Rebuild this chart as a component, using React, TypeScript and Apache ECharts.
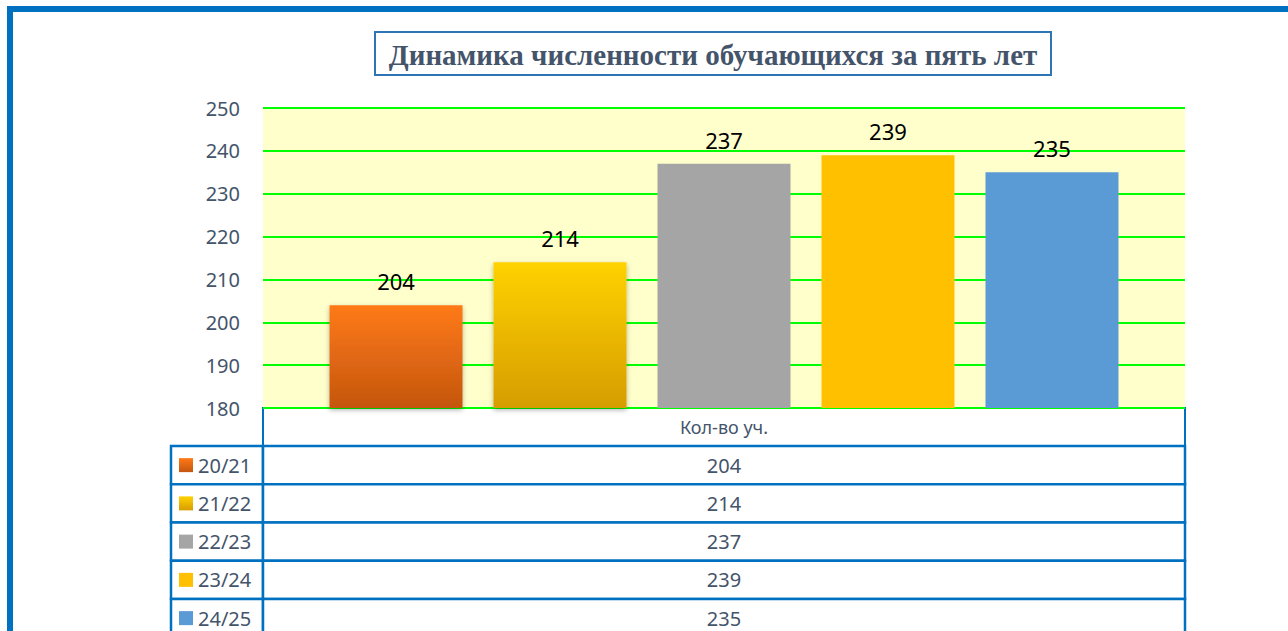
import React, { useEffect, useRef } from "react";
import * as echarts from "echarts";

const title = "Динамика численности обучающихся за пять лет";
const categoryLabel = "Кол-во уч.";
const seriesNames = ["20/21", "21/22", "22/23", "23/24", "24/25"];
const seriesValues = [204, 214, 237, 239, 235];
const yTicks = { min: 180, max: 250, interval: 10 };

const gradTop = ["#FF7A16", "#FFD200", "#A5A5A5", "#FFC000", "#5B9BD5"];
const gradBottom = ["#C4560F", "#D69D00", "#A5A5A5", "#FFC000", "#5B9BD5"];

const FONT = "'Noto Sans', sans-serif";
const TEXT = "#44546A";
const BLUE = "#0070C0";

const makeFill = (i: number) =>
  gradTop[i] === gradBottom[i]
    ? gradTop[i]
    : new echarts.graphic.LinearGradient(0, 0, 0, 1, [
        { offset: 0, color: gradTop[i] },
        { offset: 1, color: gradBottom[i] },
      ]);

export default function App() {
  const ref = useRef<HTMLDivElement>(null);
  useEffect(() => {
    if (!ref.current) return;
    const chart = echarts.init(ref.current, undefined, { renderer: "svg" });

    const gl = 263, gt = 108, gw = 922, gh = 300;
    const tableLeft = 171;
    const headerH = 38;
    const rowH = 38.25;

    const graphics: any[] = [];
    // outer frame
    graphics.push({
      type: "rect",
      shape: { x: 10, y: 9, width: 1400, height: 800 },
      style: { fill: "none", stroke: BLUE, lineWidth: 6 },
      silent: true,
    });
    // title box
    graphics.push({
      type: "rect",
      shape: { x: 375, y: 32, width: 676, height: 43 },
      style: { fill: "#fff", stroke: "#2E75B6", lineWidth: 2 },
    });
    graphics.push({
      type: "text",
      x: 713,
      y: 55,
      style: {
        text: title,
        fill: TEXT,
        font: "bold 29px 'Liberation Serif', serif",
        align: "center",
        verticalAlign: "middle",
      },
    });
    // table header
    const ht = gt + gh;
    graphics.push({
      type: "rect",
      shape: { x: gl, y: ht, width: gw, height: headerH },
      style: { fill: "#fff", stroke: BLUE, lineWidth: 2 },
    });
    graphics.push({
      type: "text",
      x: gl + gw / 2,
      y: ht + headerH / 2,
      style: {
        text: categoryLabel,
        fill: TEXT,
        font: `18px ${FONT}`,
        align: "center",
        verticalAlign: "middle",
      },
    });
    seriesNames.forEach((name, i) => {
      const y = ht + headerH + i * rowH;
      graphics.push({
        type: "rect",
        shape: { x: tableLeft, y, width: gl - tableLeft, height: rowH },
        style: { fill: "#fff", stroke: BLUE, lineWidth: 2.5 },
      });
      graphics.push({
        type: "rect",
        shape: { x: gl, y, width: gw, height: rowH },
        style: { fill: "#fff", stroke: BLUE, lineWidth: 2.5 },
      });
      graphics.push({
        type: "rect",
        shape: { x: 179, y: y + rowH / 2 - 7, width: 14, height: 14 },
        style: { fill: makeFill(i) },
      });
      graphics.push({
        type: "text",
        x: 198,
        y: y + rowH / 2,
        style: {
          text: name,
          fill: TEXT,
          font: `20px ${FONT}`,
          align: "left",
          verticalAlign: "middle",
        },
      });
      graphics.push({
        type: "text",
        x: gl + gw / 2,
        y: y + rowH / 2,
        style: {
          text: String(seriesValues[i]),
          fill: TEXT,
          font: `20px ${FONT}`,
          align: "center",
          verticalAlign: "middle",
        },
      });
    });

    chart.setOption({
      animation: false,
      backgroundColor: "#fff",
      grid: {
        left: gl,
        top: gt,
        width: gw,
        height: gh,
        show: true,
        backgroundColor: "#FFFFCC",
        borderWidth: 0,
      },
      xAxis: {
        type: "category",
        data: [categoryLabel],
        axisLine: { show: false },
        axisTick: { show: false },
        axisLabel: { show: false },
      },
      yAxis: {
        type: "value",
        min: yTicks.min,
        max: yTicks.max,
        interval: yTicks.interval,
        axisLine: { show: false },
        axisTick: { show: false },
        axisLabel: { color: TEXT, fontSize: 20, fontFamily: FONT, margin: 23 },
        splitLine: { lineStyle: { color: "#00FF00", width: 2 } },
      },
      series: seriesNames.map((name, i) => ({
        type: "bar",
        name,
        data: [seriesValues[i]],
        barWidth: 133,
        barGap: "23.3%",
        itemStyle: {
          color: makeFill(i),
          ...(i < 2
            ? { shadowBlur: 5, shadowColor: "rgba(0,0,0,0.3)", shadowOffsetY: 2 }
            : {}),
        },
        label: {
          show: true,
          position: "top",
          distance: 13,
          color: "#000",
          fontSize: 22,
          fontFamily: FONT,
        },
      })),
      graphic: graphics,
    });
    return () => chart.dispose();
  }, []);
  return (
    <div
      ref={ref}
      style={{ position: "fixed", left: 0, top: 0, width: 1288, height: 631 }}
    />
  );
}
